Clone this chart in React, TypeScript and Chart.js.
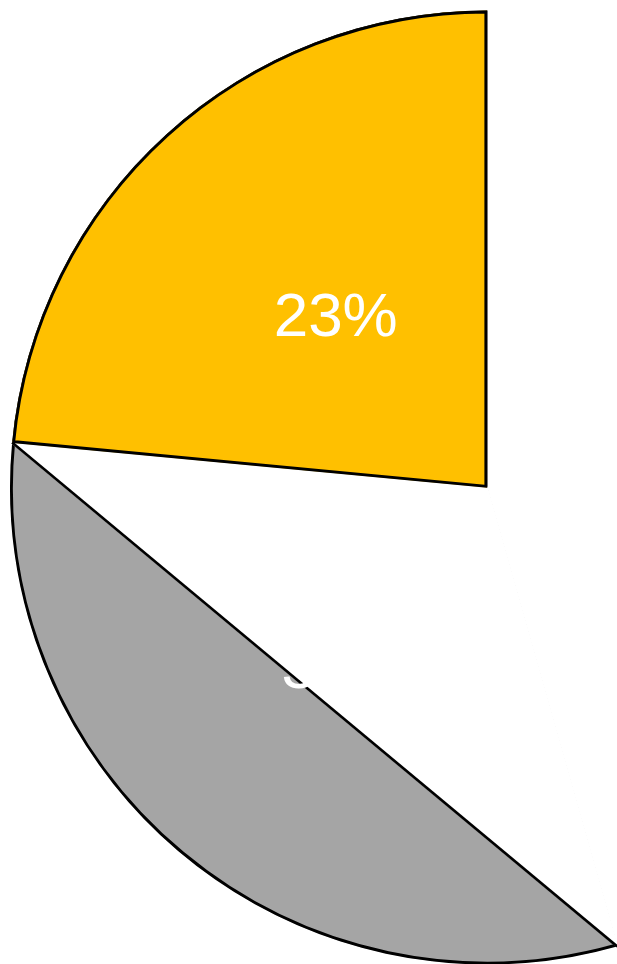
import React, { useEffect, useRef } from "react";
import { Chart, registerables } from "chart.js";

Chart.register(...registerables);

const categories = ["Slice A", "Slice B", "Slice C"];
const values = [45.6, 30.9, 23.5];
const valueLabels = ["46%", "31%", "23%"];

const sliceColors = ["rgba(255,255,255,0)", "#A5A5A5", "#FFC000"];
const sliceBorders = [0, 2.6, 2.6];
const CHORD_INDEX = 1;
const REDRAW_INDEX = 2;

const segmentPlugin = {
  id: "segmentPlugin",
  afterDatasetsDraw(chart: any) {
    const ctx = chart.ctx as CanvasRenderingContext2D;
    const meta = chart.getDatasetMeta(0);
    const arcs = meta.data as any[];
    const g = arcs[CHORD_INDEX].getProps(["x", "y", "startAngle", "endAngle", "outerRadius"], true);
    const x1 = g.x + g.outerRadius * Math.cos(g.startAngle);
    const y1 = g.y + g.outerRadius * Math.sin(g.startAngle);
    const x2 = g.x + g.outerRadius * Math.cos(g.endAngle);
    const y2 = g.y + g.outerRadius * Math.sin(g.endAngle);
    ctx.save();
    ctx.beginPath();
    ctx.moveTo(g.x, g.y);
    ctx.lineTo(x1, y1);
    ctx.lineTo(x2, y2);
    ctx.closePath();
    ctx.fillStyle = "#ffffff";
    ctx.strokeStyle = "#ffffff";
    ctx.lineWidth = 2;
    ctx.lineJoin = "round";
    ctx.fill();
    ctx.stroke();
    ctx.beginPath();
    ctx.moveTo(x1, y1);
    ctx.lineTo(x2, y2);
    ctx.strokeStyle = "#000000";
    ctx.lineWidth = 2.6;
    ctx.stroke();
    ctx.restore();

    arcs[REDRAW_INDEX].draw(ctx);

    ctx.save();
    const fontSize = 62;
    ctx.font = `${fontSize}px 'Liberation Sans', Arial, sans-serif`;
    ctx.fillStyle = "#ffffff";
    ctx.textAlign = "center";
    ctx.textBaseline = "alphabetic";
    arcs.forEach((arc: any, i: number) => {
      const p = arc.getProps(["x", "y", "startAngle", "endAngle", "outerRadius"], true);
      const mid = (p.startAngle + p.endAngle) / 2;
      const r = p.outerRadius * 0.49;
      const cx = p.x + r * Math.cos(mid) + 6;
      const cy = p.y + r * Math.sin(mid) - 1;
      ctx.fillText(valueLabels[i], cx, cy + fontSize * 0.358);
    });
    ctx.restore();
  },
};

export default function App() {
  const canvasRef = useRef<HTMLCanvasElement | null>(null);

  useEffect(() => {
    if (!canvasRef.current) return;
    const chart = new Chart(canvasRef.current, {
      type: "pie",
      data: {
        labels: categories,
        datasets: [
          {
            data: values,
            backgroundColor: sliceColors,
            borderColor: "#000000",
            borderWidth: sliceBorders,
            borderAlign: "inner",
            clip: false,
          } as any,
        ],
      },
      options: {
        responsive: false,
        animation: false,
        radius: 477,
        layout: { padding: { left: 357, right: 0, top: 11, bottom: 0 } },
        plugins: {
          legend: { display: false },
          tooltip: { enabled: false },
        },
      } as any,
      plugins: [segmentPlugin],
    });
    return () => chart.destroy();
  }, []);

  return (
    <div
      style={{
        position: "fixed",
        left: 0,
        top: 0,
        width: 617,
        height: 964,
        overflow: "hidden",
        background: "#ffffff",
      }}
    >
      <canvas ref={canvasRef} width={617} height={964} style={{ display: "block" }} />
    </div>
  );
}
